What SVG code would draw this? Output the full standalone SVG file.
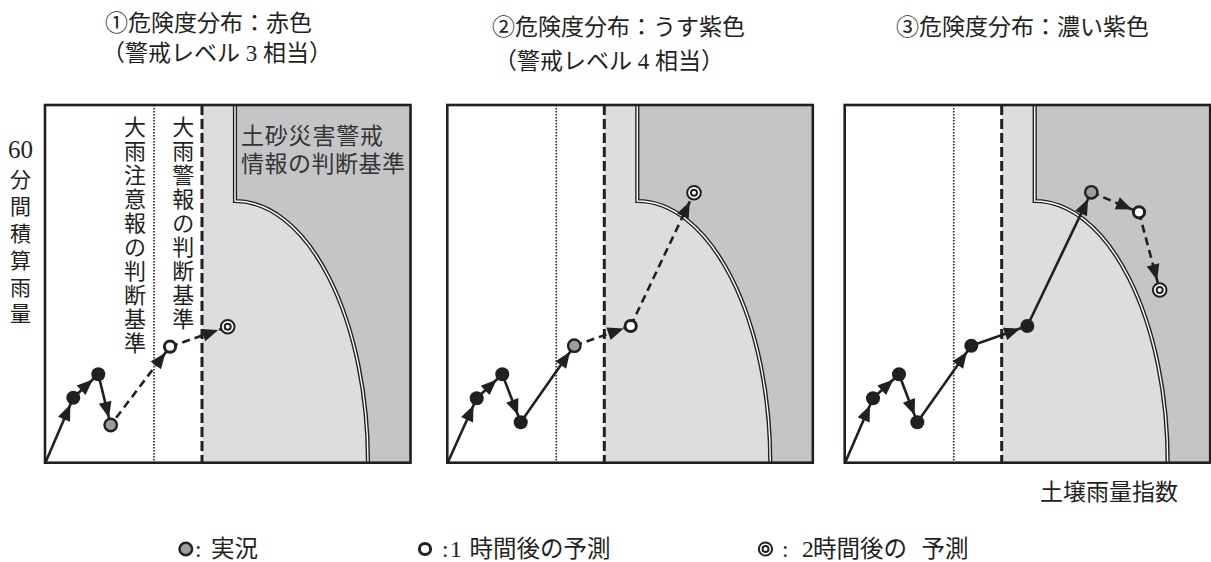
<svg xmlns="http://www.w3.org/2000/svg" width="1211" height="562" viewBox="0 0 1211 562">
<defs>
<style>
.t{font-family:"Liberation Serif","Noto Sans CJK JP",serif;fill:#231f20}
.t23{font-size:23px}
.t235{font-size:23.5px}
.t21{font-size:21px}
.lab{font-family:"Liberation Serif","Noto Sans CJK JP",serif;font-size:22px;fill:#231f20;text-anchor:middle}
.lab2{font-family:"Liberation Serif","Noto Sans CJK JP",serif;font-size:23px;fill:#333}
.frame{fill:none;stroke:#231f20;stroke-width:2.6}
.bg{fill:#fff}
.lite{fill:#dcdddf}
.dark{fill:#c4c5c7}
.bnd{fill:none;stroke:#231f20;stroke-width:4.2}
.bndw{fill:none;stroke:#fff;stroke-width:1.4}
.dotl{fill:none;stroke:#231f20;stroke-width:1.6;stroke-dasharray:1.5 1.5}
.dashl{fill:none;stroke:#231f20;stroke-width:3;stroke-dasharray:10 4}
.s{fill:none;stroke:#231f20;stroke-width:2.6;marker-end:url(#ah)}
.d{fill:none;stroke:#231f20;stroke-width:2.6;stroke-dasharray:8 5;marker-end:url(#ah)}
.d2{fill:none;stroke:#231f20;stroke-width:2.6;stroke-dasharray:8 5;marker-end:url(#ah2)}
.b{fill:#231f20}
.g{fill:#9d9d9f;stroke:#231f20;stroke-width:2.4}
.o{fill:#fff;stroke:#231f20;stroke-width:3}
.w{fill:#fff;stroke:#231f20;stroke-width:2}
</style>
<marker id="ah" markerUnits="userSpaceOnUse" markerWidth="16" markerHeight="13" viewBox="0 0 16 13" refX="23.5" refY="6.5" orient="auto" overflow="visible"><path d="M0,0 L16,6.5 L0,13 Z" fill="#231f20"/></marker>
<marker id="ah2" markerUnits="userSpaceOnUse" markerWidth="16" markerHeight="13" viewBox="0 0 16 13" refX="26" refY="6.5" orient="auto" overflow="visible"><path d="M0,0 L16,6.5 L0,13 Z" fill="#231f20"/></marker>
<g id="chart-bg">
<rect class="bg" x="0" y="105" width="365.5" height="357.7"/>
<rect class="lite" x="157" y="105" width="208.5" height="357.7"/>
<path class="dark" d="M190,105 V201 A133,262 0 0 1 323,462.7 H365.5 V105 Z"/>
<path class="bnd" d="M190,105 V201 A133,262 0 0 1 323,462.7"/>
<path class="bndw" d="M190,105 V201 A133,262 0 0 1 323,462.7"/>
<line class="dotl" x1="109" y1="105" x2="109" y2="462.7"/>
<line class="dashl" x1="157" y1="105" x2="157" y2="462.7"/>
<rect class="frame" x="0" y="105" width="365.5" height="357.7"/>
</g>
</defs>

<g id="titles" class="t t23">
<text x="105" y="30.5">①危険度分布：赤色</text>
<text x="102" y="61">（警戒レベル 3 相当）</text>
<text x="492" y="34.5">②危険度分布：うす紫色</text>
<text x="494" y="68.5">（警戒レベル 4 相当）</text>
<text x="896" y="34.5">③危険度分布：濃い紫色</text>
</g>

<g id="y-axis-label" class="t t21" text-anchor="middle">
<text x="20.5" y="158" font-size="25">60</text>
<text x="20.5" y="187">分</text>
<text x="20.5" y="214">間</text>
<text x="20.5" y="240.5">積</text>
<text x="20.5" y="268">算</text>
<text x="20.5" y="295">雨</text>
<text x="20.5" y="321">量</text>
</g>

<g id="panel1" transform="translate(45,0)">
<use href="#chart-bg"/>
<g id="label-heavy-rain-advisory" class="lab">
<text x="90" y="135">大</text><text x="90" y="159">雨</text><text x="90" y="183">注</text><text x="90" y="207">意</text><text x="90" y="231">報</text><text x="90" y="255">の</text><text x="90" y="279">判</text><text x="90" y="303">断</text><text x="90" y="327">基</text><text x="90" y="351">準</text>
</g>
<g id="label-heavy-rain-warning" class="lab">
<text x="138.3" y="135">大</text><text x="138.3" y="159">雨</text><text x="138.3" y="183">警</text><text x="138.3" y="207">報</text><text x="138.3" y="231">の</text><text x="138.3" y="255">判</text><text x="138.3" y="279">断</text><text x="138.3" y="303">基</text><text x="138.3" y="327">準</text>
</g>
<g id="label-landslide-warning" class="lab2">
<text x="196" y="143.7" textLength="142">土砂災害警戒</text>
<text x="196" y="172" textLength="164">情報の判断基準</text>
</g>
</g>

<g id="panel2" transform="translate(447.3,0)">
<use href="#chart-bg"/>
</g>

<g id="panel3" transform="translate(844.7,0)">
<use href="#chart-bg"/>
</g>

<g id="connectors">
<g transform="translate(45,0)">
<line class="s" x1="0.5" y1="462.5" x2="28.3" y2="397.7"/>
<line class="s" x1="28.3" y1="397.7" x2="53.3" y2="374.3"/>
<line class="s" x1="53.3" y1="374.3" x2="65.7" y2="425"/>
<line class="d" x1="65.7" y1="425" x2="125" y2="346.7" stroke-dashoffset="-9"/>
<line class="d2" x1="125" y1="346.7" x2="182.7" y2="326.7"/>
</g>
<g transform="translate(447.3,0)">
<line class="s" x1="0.5" y1="462.5" x2="29.4" y2="398.3"/>
<line class="s" x1="29.4" y1="398.3" x2="55" y2="374.3"/>
<line class="s" x1="55" y1="374.3" x2="73.4" y2="422.3"/>
<line class="s" x1="73.4" y1="422.3" x2="127" y2="345.7"/>
<line class="d" x1="127" y1="345.7" x2="183.4" y2="326"/>
<line class="d2" x1="183.4" y1="326" x2="246.7" y2="192.7"/>
</g>
<g transform="translate(844.7,0)">
<line class="s" x1="0.5" y1="462.5" x2="28.3" y2="398.3"/>
<line class="s" x1="28.3" y1="398.3" x2="54.3" y2="374.3"/>
<line class="s" x1="54.3" y1="374.3" x2="72.6" y2="422.3"/>
<line class="s" x1="72.6" y1="422.3" x2="126.6" y2="345.7"/>
<line class="s" x1="126.6" y1="345.7" x2="182.6" y2="326"/>
<line class="s" x1="182.6" y1="326" x2="246.6" y2="192.3"/>
<line class="d" x1="246.6" y1="192.3" x2="294.3" y2="212.3"/>
<line class="d2" x1="294.3" y1="212.3" x2="315" y2="290"/>
</g>
</g>

<g id="nodes-panel1" transform="translate(45,0)">
<g id="p1-n1"><circle class="b" cx="28.3" cy="397.7" r="7"/></g>
<g id="p1-n2"><circle class="b" cx="53.3" cy="374.3" r="7"/></g>
<g id="p1-n3"><circle class="g" cx="65.7" cy="425" r="6.2"/></g>
<g id="p1-n4"><circle class="o" cx="125" cy="346.7" r="5.6"/></g>
<g id="p1-n5"><circle class="w" cx="182.7" cy="326.7" r="6.8"/><circle class="w" cx="182.7" cy="326.7" r="3"/></g>
</g>

<g id="nodes-panel2" transform="translate(447.3,0)">
<g id="p2-n1"><circle class="b" cx="29.4" cy="398.3" r="7"/></g>
<g id="p2-n2"><circle class="b" cx="55" cy="374.3" r="7"/></g>
<g id="p2-n3"><circle class="b" cx="73.4" cy="422.3" r="7"/></g>
<g id="p2-n4"><circle class="g" cx="127" cy="345.7" r="6.2"/></g>
<g id="p2-n5"><circle class="o" cx="183.4" cy="326" r="5.6"/></g>
<g id="p2-n6"><circle class="w" cx="246.7" cy="192.7" r="6.8"/><circle class="w" cx="246.7" cy="192.7" r="3"/></g>
</g>

<g id="nodes-panel3" transform="translate(844.7,0)">
<g id="p3-n1"><circle class="b" cx="28.3" cy="398.3" r="7"/></g>
<g id="p3-n2"><circle class="b" cx="54.3" cy="374.3" r="7"/></g>
<g id="p3-n3"><circle class="b" cx="72.6" cy="422.3" r="7"/></g>
<g id="p3-n4"><circle class="b" cx="126.6" cy="345.7" r="7"/></g>
<g id="p3-n5"><circle class="b" cx="182.6" cy="326" r="7"/></g>
<g id="p3-n6"><circle class="g" cx="246.6" cy="192.3" r="6.2"/></g>
<g id="p3-n7"><circle class="o" cx="294.3" cy="212.3" r="5.6"/></g>
<g id="p3-n8"><circle class="w" cx="315" cy="290" r="6.8"/><circle class="w" cx="315" cy="290" r="3"/></g>
</g>

<g id="x-axis-label" class="t t23">
<text x="1040" y="500">土壌雨量指数</text>
</g>

<g id="legend">
<g id="legend-actual">
<circle class="g" cx="185.8" cy="549" r="6.3"/>
<text class="t t235" y="556.5"><tspan x="195">:</tspan> <tspan x="211">実況</tspan></text>
</g>
<g id="legend-1h">
<circle class="o" cx="425" cy="549" r="5.6"/>
<text class="t t235" y="556.5"><tspan x="442">:</tspan><tspan x="450">1</tspan> <tspan x="469.5">時間後の予測</tspan></text>
</g>
<g id="legend-2h">
<circle class="w" cx="765.5" cy="549" r="6.6"/><circle class="w" cx="765.5" cy="549" r="3"/>
<text class="t t235" y="556.5"><tspan x="782">:</tspan><tspan x="802">2</tspan> <tspan x="813">時間後の</tspan> <tspan x="921.5">予測</tspan></text>
</g>
</g>
</svg>
